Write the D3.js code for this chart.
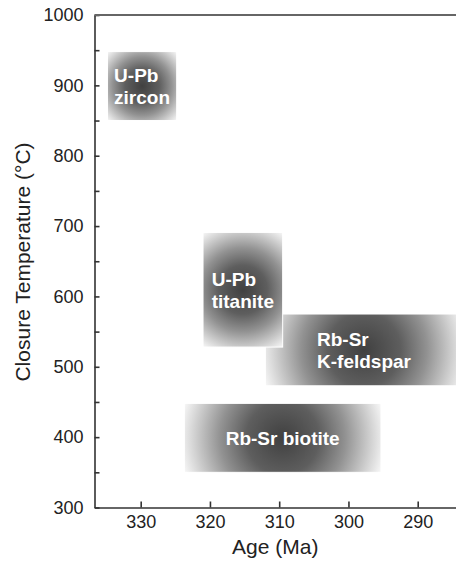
<!DOCTYPE html>
<meta charset="utf-8">
<script src="https://d3js.org/d3.v7.min.js"></script>
<style>
  body { margin: 0; background: #fff; }
  svg { font-family: "Liberation Sans", Arial, sans-serif; }
  .axis text { font-size: 18px; fill: #222; }
  .axis path, .axis line { stroke: #333; stroke-width: 1.6px; }
  .title { font-size: 21px; fill: #222; }
  .box-label { font-size: 19px; font-weight: bold; fill: #fff; }
</style>
<body>
<div id="chart"></div>
<script>
// closure temperature windows: age range (Ma) and temperature range (C)
var systems = ["U-Pb zircon", "Rb-Sr K-feldspar", "U-Pb titanite", "Rb-Sr biotite"];
var labels  = [["U-Pb", "zircon"], ["Rb-Sr", "K-feldspar"], ["U-Pb", "titanite"], ["Rb-Sr biotite"]];
var ageOld  = [334.8, 312.0, 321.0, 323.7];
var ageYoung = [324.8, 283.5, 309.5, 295.3];
var tempLow  = [850, 473, 528, 350];
var tempHigh = [948, 575, 691, 448];

var xTicks = [330, 320, 310, 300, 290];
var yTicks = d3.range(300, 1001, 50);

var width = 456, height = 561;
var m = {left: 94.5, right: 456, top: 15, bottom: 507.5};

var svg = d3.select("#chart").append("svg")
    .attr("width", width)
    .attr("height", height);

var x = d3.scaleLinear()
    .domain([336.67, 284.47])
    .range([m.left, m.right]);

var y = d3.scaleLinear()
    .domain([300, 1000])
    .range([m.bottom, m.top]);

var data = systems.map(function(s, i) {
  return { name: s, lines: labels[i], a0: ageOld[i], a1: ageYoung[i], t0: tempLow[i], t1: tempHigh[i] };
});

// one radial gradient per box, centred, reaching the corners
var defs = svg.append("defs");
defs.append("clipPath").attr("id", "plotclip")
  .append("rect").attr("x", m.left).attr("y", m.top)
  .attr("width", m.right - m.left).attr("height", m.bottom - m.top);

data.forEach(function(d, i) {
  var x0 = x(d.a0), x1 = x(d.a1), y0 = y(d.t1), y1 = y(d.t0);
  var g = defs.append("radialGradient")
      .attr("id", "grad" + i)
      .attr("gradientUnits", "userSpaceOnUse")
      .attr("cx", (x0 + x1) / 2)
      .attr("cy", (y0 + y1) / 2)
      .attr("r", Math.sqrt(Math.pow((x1 - x0) / 2, 2) + Math.pow((y1 - y0) / 2, 2)));
  g.append("stop").attr("offset", "0").attr("stop-color", "#404040");
  g.append("stop").attr("offset", "0.35").attr("stop-color", "#5e5e5e");
  g.append("stop").attr("offset", "0.6").attr("stop-color", "#929292");
  g.append("stop").attr("offset", "0.85").attr("stop-color", "#d2d2d2");
  g.append("stop").attr("offset", "1").attr("stop-color", "#f8f8f8");
});

var boxes = svg.append("g").attr("clip-path", "url(#plotclip)")
  .selectAll("g")
  .data(data)
  .enter()
  .append("g");

boxes.append("rect")
    .attr("x", function(d) { return x(d.a0); })
    .attr("y", function(d) { return y(d.t1); })
    .attr("width", function(d) { return x(d.a1) - x(d.a0); })
    .attr("height", function(d) { return y(d.t0) - y(d.t1); })
    .attr("fill", function(d, i) { return "url(#grad" + i + ")"; })
    .attr("stroke", "#fff")
    .attr("stroke-width", 1);

// labels: left-aligned block centred in each box
boxes.each(function(d) {
  var g = d3.select(this);
  var cx = (x(d.a0) + x(d.a1)) / 2, cy = (y(d.t0) + y(d.t1)) / 2;
  var lh = 22;
  var t = g.append("text").attr("class", "box-label");
  d.lines.forEach(function(l, k) {
    t.append("tspan").attr("y", cy - (d.lines.length - 1) * lh / 2 + 6.8 + k * lh).text(l);
  });
  var w = d3.max(t.selectAll("tspan").nodes(), function(n) { return n.getComputedTextLength(); });
  t.selectAll("tspan").attr("x", cx - w / 2);
});

// axes
svg.append("g")
    .attr("class", "axis")
    .attr("transform", "translate(" + m.left + ",0)")
    .call(d3.axisLeft(y).tickValues(yTicks)
      .tickFormat(function(d) { return d % 100 ? "" : d; })
      .tickSizeInner(-5).tickSizeOuter(0).tickPadding(11));

svg.append("g")
    .attr("class", "axis")
    .attr("transform", "translate(0," + m.bottom + ")")
    .call(d3.axisBottom(x).tickValues(xTicks)
      .tickSizeInner(-6).tickSizeOuter(0).tickPadding(8));

// top frame line
svg.append("line")
    .attr("x1", m.left).attr("x2", m.right)
    .attr("y1", m.top).attr("y2", m.top)
    .attr("stroke", "#666")
    .attr("stroke-width", 2);

svg.append("text")
    .attr("class", "title")
    .attr("x", (m.left + m.right) / 2)
    .attr("y", 554)
    .attr("text-anchor", "middle")
    .text("Age (Ma)");

svg.append("text")
    .attr("class", "title")
    .attr("transform", "translate(30,262) rotate(-90)")
    .attr("text-anchor", "middle")
    .text("Closure Temperature (\u00B0C)");
</script>
</body>
